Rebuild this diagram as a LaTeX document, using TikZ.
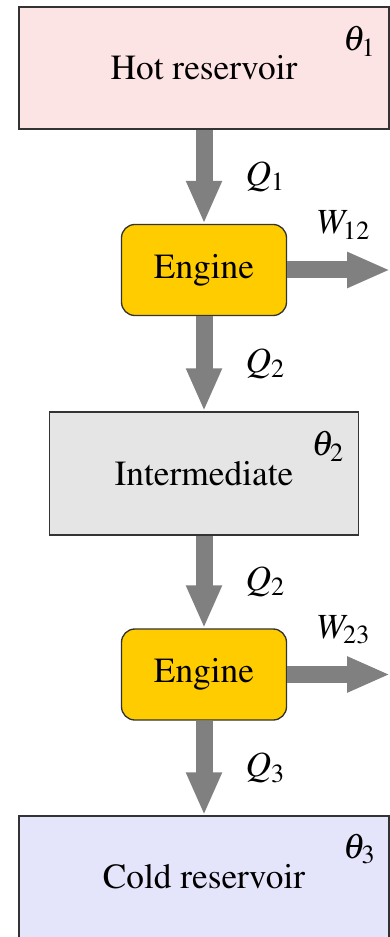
\documentclass[tikz,border=0pt]{standalone}
\usepackage[T1]{fontenc}
\usepackage{mathptmx}
\usepackage{tikz}
\usetikzlibrary{calc, arrows.meta, positioning}

\definecolor{hotpink}{HTML}{FDE4E4}
\definecolor{midgray}{HTML}{E5E5E5}
\definecolor{coldblue}{HTML}{E4E4FA}
\definecolor{enginegold}{HTML}{FFCC00}

\tikzset{
  reservoir/.style = {draw=black!80, minimum width=111pt, minimum height=36.6pt},
  engine/.style = {draw=black!80, fill=enginegold, rounded corners=4pt,
    minimum width=49.5pt, minimum height=27.3pt},
  flow/.style = {draw=gray, line width=5.1pt, -{Triangle[width=9.9pt, length=12.9pt]}},
  qlabel/.style = {midway, right, xshift=6.6pt},
}

\begin{document}
\begin{tikzpicture}[x=0.3pt, y=-0.3pt, font=\fontfamily{ptm}\fontsize{10.6}{12.7}\selectfont]
			\def\cx{204};
			\useasboundingbox (0,0) rectangle (390,937);

			% reservoirs and engines
			\begin{scope}
				\node[reservoir, fill=hotpink] (hot) at (\cx,68) {Hot reservoir};
				\node[engine] (eng1) at (\cx,270) {Engine};
				\node[reservoir, fill=midgray, minimum width=92.7pt, minimum height=36.9pt] (mid) at (\cx,473.5) {Intermediate};
				\node[engine] (eng2) at (\cx,674.5) {Engine};
				\node[reservoir, fill=coldblue] (cold) at (\cx,877) {Cold reservoir};

				\node (th1) at ($(hot.north east)+(-30,35)$) {$\theta_1$};
				\node (th2) at ($(mid.north east)+(-31,35)$) {$\theta_2$};
				\node (th3) at ($(cold.north east)+(-30,34)$) {$\theta_3$};
			\end{scope}

			% heat and work flows
			\begin{scope}
				\coordinate (w12end) at ($(eng1.east)+(103,0)$);
				\coordinate (w23end) at ($(eng2.east)+(103,0)$);

				\draw[flow] (hot) -- node[qlabel] (q1) {$Q_1$} (eng1);
				\draw[flow] (eng1) -- node[qlabel] (q2a) {$Q_2$} (mid);
				\draw[flow] (mid) -- node[qlabel] (q2b) {$Q_2$} (eng2);
				\draw[flow] (eng2) -- node[qlabel] (q3) {$Q_3$} (cold);

				\draw[flow] (eng1.east) -- (w12end);
				\draw[flow] (eng2.east) -- (w23end);
				\node (w12) at ($(eng1.east)+(57,-45)$) {$W_{12}$};
				\node (w23) at ($(eng2.east)+(57,-45)$) {$W_{23}$};
			\end{scope}
		\end{tikzpicture}
\end{document}
